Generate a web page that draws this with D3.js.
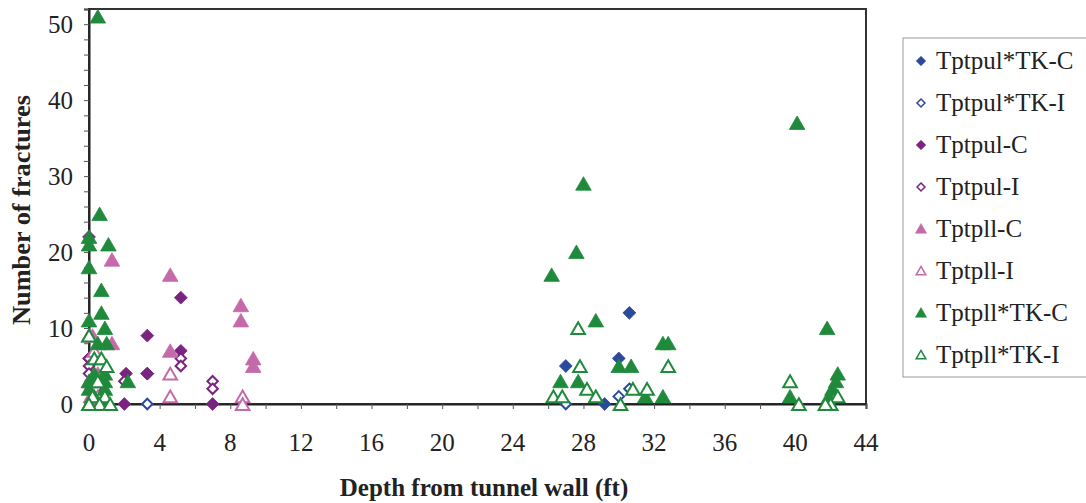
<!DOCTYPE html>
<html><head><meta charset="utf-8">
<script src="https://cdn.jsdelivr.net/npm/d3@7"></script>
<style>body{margin:0;background:#fff}svg{display:block}text{font-family:"Liberation Serif","Times New Roman",serif}</style>
</head><body>
<svg id="c" width="1086" height="503"></svg>
<script>
const seriesNames = ["Tptpul*TK-C","Tptpul*TK-I","Tptpul-C","Tptpul-I","Tptpll-C","Tptpll-I","Tptpll*TK-C","Tptpll*TK-I"];
const xTicks = [0,4,8,12,16,20,24,28,32,36,40,44];
const yTicks = [0,10,20,30,40,50];

const tkC_x = [0.2,0.4,3.3,27.0,30.0,30.6,29.2];
const tkC_y = [3,1,4,5,6,12,0];
const tkI_x = [3.3,27.0,30.0,30.6,0.3,0.2];
const tkI_y = [0,0,1,2,2,0];
const ulC_x = [0,3.3,5.2,5.2,2.1,3.3,2.0,7.0,0,0.1];
const ulC_y = [22,9,14,7,4,4,0,0,6,3];
const ulI_x = [7,7,5.2,5.2,2.0,0,0,0,0.4];
const ulI_y = [3,2,6,5,3,6,5,4,2];
const llC_x = [1.3,4.6,8.6,8.6,4.6,9.3,9.3,1.3,0.2,0.5,0.1];
const llC_y = [19,17,13,11,7,6,5,8,9,4,1];
const llI_x = [4.6,4.6,8.7,8.7,0,0.3,0,0.5,0.1,1.0];
const llI_y = [4,1,1,0,9,7,3,1,0,0];
const lltkC_x = [0.5,0.6,0,0,1.1,0,0.7,0.7,0,0.9,0.5,1.0,0.9,0.3,2.2,0,0.9,0,0.9,0.3,0.7,0,1.1,
  26.2,28.0,27.6,28.7,32.5,32.8,30.0,30.7,26.7,27.7,31.5,32.5,40.1,41.8,39.7,42.4,42.3,42.1,41.9,41.8];
const lltkC_y = [51,25,22,21,21,18,15,12,11,10,8,8,4,4,3,3,3,2,2,1,0,0,0,
  17,29,20,11,8,8,5,5,3,3,1,1,37,10,1,4,3,2,1,0];
const lltkI_x = [0,0.3,0.7,1.0,0.5,0.2,0.9,0.6,1.2,0,
  27.7,27.8,32.8,28.2,26.3,26.8,28.7,30.1,30.8,31.6,39.7,40.2,42.4,42.0,41.7];
const lltkI_y = [9,6,6,5,3,1,1,0,0,0,
  10,5,5,2,1,1,1,0,2,2,3,0,1,0,0];

const seriesX = [tkC_x,tkI_x,ulC_x,ulI_x,llC_x,llI_x,lltkC_x,lltkI_x];
const seriesY = [tkC_y,tkI_y,ulC_y,ulI_y,llC_y,llI_y,lltkC_y,lltkI_y];
const colors = ["#2b4a9c","#2b4a9c","#7a237f","#7a237f","#c46aaa","#c46aaa","#1f8a3b","#1f8a3b"];
const shapes = ["diamond","diamond","diamond","diamond","triangle","triangle","triangle","triangle"];
const filled = [true,false,true,false,true,false,true,false];

const svg = d3.select("#c");
const x = d3.scaleLinear().domain([0,44]).range([89,866]);
const y = d3.scaleLinear().domain([0,52]).range([404,9]);

// frame
svg.append("rect").attr("x",89).attr("y",9).attr("width",777).attr("height",395)
  .attr("fill","none").attr("stroke","#333").attr("stroke-width",2);

// axes
const xa = svg.append("g").attr("transform","translate(0,404)")
  .call(d3.axisBottom(x).tickValues(d3.range(0,45,2)).tickSize(5).tickFormat(""));
xa.select(".domain").attr("stroke","#222").attr("stroke-width",2);
xa.selectAll(".tick line").attr("stroke","#555");
svg.append("g").selectAll("text").data(xTicks).join("text")
  .attr("x",d=>x(d)).attr("y",451).attr("text-anchor","middle")
  .attr("font-size",25).attr("fill","#222").text(d=>d);

const ya = svg.append("g").attr("transform","translate(89,0)")
  .call(d3.axisLeft(y).tickValues(d3.range(0,53,2)).tickSize(5).tickFormat(""));
ya.select(".domain").attr("stroke","#222").attr("stroke-width",2);
ya.selectAll(".tick line").attr("stroke","#555");
svg.append("g").selectAll("text").data(yTicks).join("text")
  .attr("x",73).attr("y",d=>y(d)+8.5).attr("text-anchor","end")
  .attr("font-size",25).attr("fill","#222").text(d=>d);

svg.append("text").attr("transform","translate(30,210) rotate(-90)")
  .attr("text-anchor","middle").attr("font-size",25).attr("font-weight","bold").attr("fill","#222")
  .attr("textLength",230).attr("lengthAdjust","spacingAndGlyphs")
  .text("Number of fractures");
svg.append("text").attr("x",484).attr("y",496).attr("text-anchor","middle")
  .attr("font-size",25).attr("font-weight","bold").attr("fill","#222")
  .text("Depth from tunnel wall (ft)");

const tri = d3.symbol().type(d3.symbolTriangle);
const dia = d3.symbol().type(d3.symbolDiamond2);
function markPath(shape, size){
  if(shape==="triangle") return tri.size(size)();
  return dia.size(size)();
}

seriesNames.forEach((nm,i)=>{
  const pts = seriesX[i].map((v,j)=>[v,seriesY[i][j]]);
  const g = svg.append("g");
  const isTri = shapes[i]==="triangle";
  g.selectAll("path").data(pts).join("path")
    .attr("transform",d=>`translate(${x(d[0])},${y(d[1]) + (isTri?2:0)})`)
    .attr("d",markPath(shapes[i], isTri?(filled[i]?105:80):(filled[i]?105:70)))
    .attr("fill",filled[i]?colors[i]:"#fff")
    .attr("stroke",colors[i]).attr("stroke-width",filled[i]?0.8:2);
});

// legend
const lg = svg.append("g");
lg.append("rect").attr("x",903).attr("y",38).attr("width",200).attr("height",339)
  .attr("fill","#fff").attr("stroke","#999").attr("stroke-width",1);
seriesNames.forEach((nm,i)=>{
  const cy = 61 + i*42;
  const isTri = shapes[i]==="triangle";
  lg.append("path").attr("transform",`translate(921,${cy + (isTri?1:0)})`)
    .attr("d",markPath(shapes[i], isTri?(filled[i]?55:40):(filled[i]?60:40)))
    .attr("fill",filled[i]?colors[i]:"#fff")
    .attr("stroke",colors[i]).attr("stroke-width",filled[i]?0.5:1.5);
  lg.append("text").attr("x",936).attr("y",cy+8).attr("font-size",25).attr("fill","#222").text(nm);
});
</script>
</body></html>
